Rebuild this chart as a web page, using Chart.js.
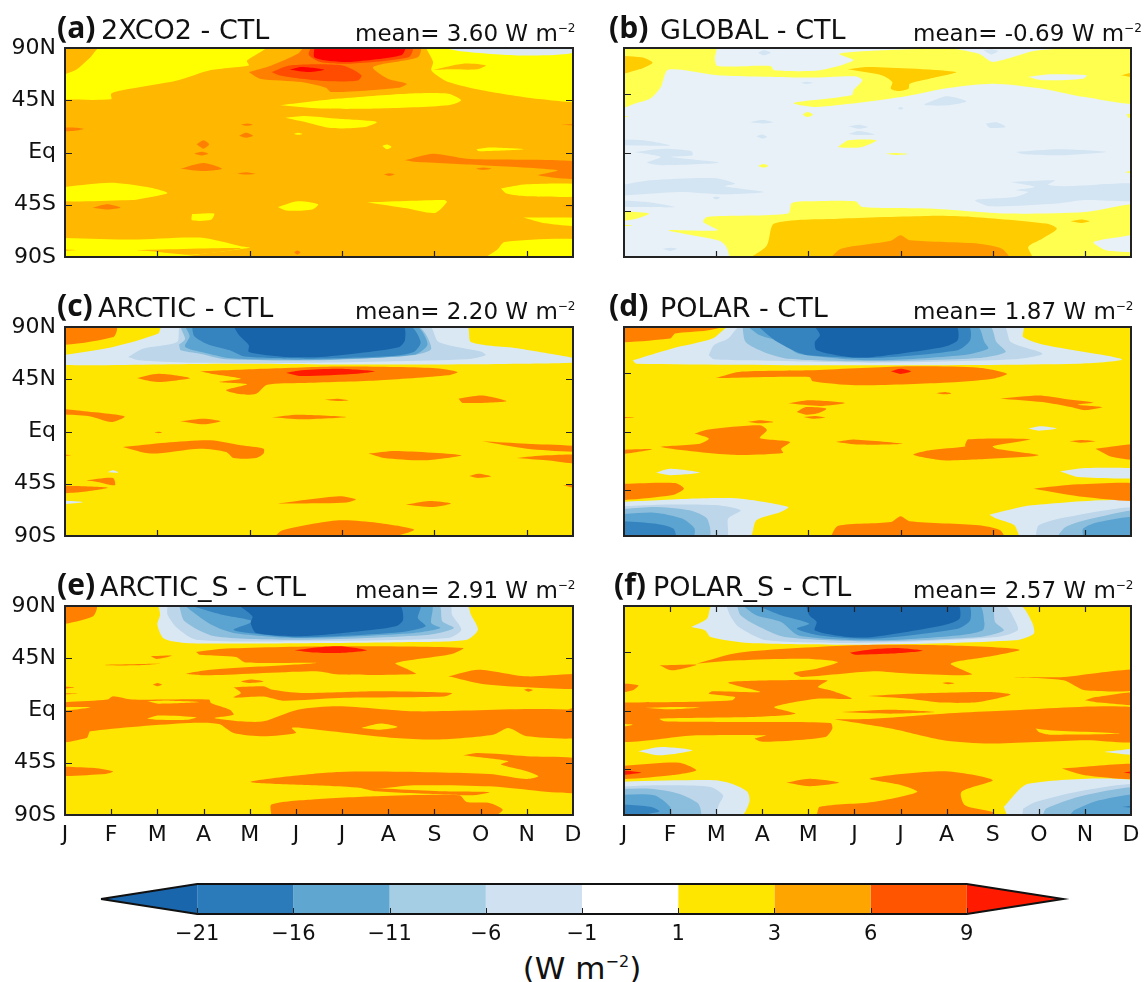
<!DOCTYPE html>
<html>
<head>
<meta charset="utf-8">
<script src="https://cdn.jsdelivr.net/npm/chart.js@4"></script>
<style>
  html, body { margin: 0; background: #fff; }
  #wrap { position: relative; width: 1145px; height: 982px; overflow: hidden; font-family: "DejaVu Sans", sans-serif; color: #111; }
  canvas { position: absolute; }
  .txt { position: absolute; white-space: nowrap; line-height: 1; z-index: 2; }
  .tag { font-family: "Open Sans", sans-serif; font-weight: 700; font-size: 30px; }
  .name { font-size: 27px; }
  .mean { font-size: 23px; }
  .mean sup { font-size: 12px; line-height: 0; vertical-align: 9px; }
</style>
</head>
<body>
<div id="wrap"></div>
<script>
/* Six month/latitude contour panels + shared colourbar.
   Regions are [band, [month, lat, month, lat, ...]]; later ones sit on top. */
const months = ["J", "F", "M", "A", "M", "J", "J", "A", "S", "O", "N", "D"];
const latLabels = { "90": "90N", "45": "45N", "0": "Eq", "-45": "45S", "-90": "90S" };
const xTicksSparse = [2, 4, 6, 8, 10];
const xTicksFull = [1, 2, 3, 4, 5, 6, 7, 8, 9, 10];
const yTicksLeft = [45, 0, -45];
const yTicksRight = [50, 0, -50];
const panelTags = ["(a)", "(b)", "(c)", "(d)", "(e)", "(f)"];
const panelNames = ["2XCO2 - CTL", "GLOBAL - CTL", "ARCTIC - CTL", "POLAR - CTL", "ARCTIC_S - CTL", "POLAR_S - CTL"];
const panelMeans = ["3.60", "-0.69", "2.20", "1.87", "2.91", "2.57"];
const barLevels = ["\u221221", "\u221216", "\u221211", "\u22126", "\u22121", "1", "3", "6", "9"];
const barColors = ["#2b7bba", "#5fa6d1", "#a5cde3", "#d0e1f2", "#ffffff", "#ffe600", "#ffa500", "#ff5500"];
const barLow = "#1966ad", barHigh = "#ff1a00";

const paletteA = { y: "#ffff00", o: "#ff8000", r: "#ff4c00", x: "#ff0000", p: "#dde8f3" };
const baseA = "#ffb700";
const paletteB = { y: "#ffff50", o: "#ffcc00", r: "#ff9900", d: "#d3e4f3", p: "#e8f1f8" };
const baseB = "#e8f1f8";
const paletteC = { o: "#ff8000", x: "#ff1a00", p: "#dae8f4", b1: "#bdd6ea", b2: "#8bbddc", b3: "#5ba3d0", b4: "#3584bf", b5: "#1864aa" };
const baseC = "#ffe600";

const panelA = [
  ["y", [-.3,45.8, 1,45.8, 1,50.7, 1.29,54, 2.43,62, 3.16,71, 3.98,75, 3.94,79, 4.34,90.5, .76,90.5, .55,82, .23,71, -.3,62]],
  ["o", [3.98,69.3, 4.47,75, 5.04,85, 5.2,90.5, 7.69,90.5, 7.64,82, 6.67,73.6, 6.99,63.6, 7.4,59.3, 7.24,55.8, 5.77,52, 5.65,55.8, 5.12,60.7, 4.22,63.6]],
  ["r", [5.32,90.5, 7.52,90.5, 7.44,82, 6.18,76.5, 5.53,78, 5.28,84]],
  ["r", [4.47,69.3, 4.87,75, 6.01,75, 6.42,66.6, 6.34,62, 5.77,61.3, 5.12,63.6, 4.63,66.6]],
  ["x", [5.4,90.5, 7.36,90.5, 7.28,83.7, 6.18,78, 5.69,79, 5.4,82]],
  ["x", [4.87,71.3, 5.12,73.6, 5.61,71.3, 5.28,69.3]],
  ["y", [7.81,90.5, 11.3,90.5, 11.3,45.8, 10.33,45.8, 9.03,53.6, 8.3,60.7, 8.05,66.5, 7.93,71.3, 7.97,78]],
  ["p", [8.13,90.5, 11.2,90.5, 10.9,85, 9.85,83.5, 8.62,87]],
  [null, [7.93,70.8, 8.62,76.5, 9.11,75, 8.91,71.6, 8.3,71.6]],
  ["y", [4.65,40.6, 5.93,46.4, 7.4,50.7, 8.3,50.7, 8.58,45, 8.3,40.6, 6.75,37.8, 5.53,37.8]],
  ["y", [4.77,30, 5.2,31.5, 5.93,29, 6.75,26.3, 6.5,22, 5.77,21, 5.2,26.3]],
  ["y", [4.96,16, 5.04,17, 5.14,16, 5.04,15.2]],
  ["y", [6.87,5.6, 6.97,6.8, 7.07,4.8, 6.97,2.8]],
  ["y", [8.91,2.8, 9.19,4.2, 9.93,2.8, 9.19,1.3, 8.95,1.3]],
  ["o", [7.36,-6.7, 7.97,-1, 8.7,-5.3, 9.52,-6, 10.66,-6.7, 11.3,-9.6, 11.3,-22.5, 10.25,-19.6, 10.66,-15.3, 9.03,-11, 7.56,-8]],
  ["o", [8.9,-14, 9.05,-13, 9.23,-14, 9.05,-15]],
  ["o", [6.9,-19, 7.02,-17.8, 7.14,-19, 7.02,-20.2]],
  ["o", [-.3,21, .15,21.5, .4,20.3, .15,18.5, -.3,18.5]],
  ["o", [10.74,24, 11.3,25, 11.3,23]],
  ["o", [10.7,-46, 11.3,-45, 11.3,-47]],
  ["o", [3.81,24, 3.95,25, 4.06,24, 3.95,23]],
  ["o", [3.77,14.5, 3.92,17, 4.07,14.5, 3.92,12.8]],
  ["o", [2.85,7, 3,10.5, 3.12,7, 3,3.2]],
  ["o", [2.8,-1, 2.96,.6, 3.1,-1, 2.96,-2.5]],
  ["o", [2.5,-14, 3,-9, 3.4,-14, 3,-16]],
  ["o", [3.73,-18, 3.92,-17, 4.12,-18.3, 3.92,-19]],
  ["o", [.6,-47.5, .92,-44.6, 1.2,-47.5, .92,-49]],
  ["o", [4.96,-86, 5.03,-84.5, 5.1,-86, 5.03,-88]],
  ["y", [-.3,-31, .96,-26, 1.78,-29.7, 2.22,-34.8, 1.86,-38.3, 1.45,-41, -.3,-41]],
  ["y", [4.61,-47, 5.04,-42, 5.48,-44.6, 5.36,-49, 4.79,-50]],
  ["y", [6.54,-43, 8.21,-41, 8.27,-42.6, 8.01,-52, 7.4,-48]],
  ["y", [2.75,-53, 3.23,-52.6, 3.16,-58, 2.75,-58.4]],
  ["y", [9.44,-31, 10,-27.4, 11.3,-28, 11.3,-37, 10,-37.7, 9.56,-35.4]],
  ["y", [9.93,-56, 11.3,-57, 11.3,-63.5, 10.4,-61]],
  ["y", [9.07,-91, 9.35,-84, 9.52,-77, 11.3,-75.6, 11.3,-91]],
  ["y", [-.3,-73.3, 1.45,-75, 2.92,-73.3, 3.81,-80.7, 4,-82, 2.67,-89, 2.6,-91, -.3,-91]],
  [null, [1.45,-84.2, 3.81,-82.4, 2.75,-88, 1.85,-85]],
  [null, [-.3,-83, .25,-84, -.3,-85]]
];

const panelB = [
  ["y", [-.3,90.5, 1.99,90.5, 1.97,81, 2.03,74.5, 3.18,74.5, 3.26,70.8, 4.25,70.8, 4.98,79.4, 4.67,85, 5.63,88, 7.09,89.4, 7.7,85, 8,78, 9,88, 11.3,88, 11.3,43.5, 10,47.8, 9.08,55, 8,59.3, 6.93,55, 6.02,47.8, 4.18,39.2, 3.68,42.6, 4.94,49.2, 4.98,53.6, 5.17,62.2, 5.02,65.6, 4.02,64.5, 2.03,66.5, .96,71.3, .8,56.4, .57,46.4, .23,42, -.3,36.3]],
  ["o", [-.3,83.7, .38,82, .62,77.4, .33,71.6, -.3,66.5]],
  ["o", [4.85,71.6, 5.32,73.6, 7.2,69.3, 6.63,63.6, 6.2,59.3, 6.17,55, 5.94,53, 5.79,55, 5.82,60.7, 5.59,66.5]],
  ["o", [10.77,66.5, 11.3,70.8, 11.3,63.6]],
  ["p", [8.77,65, 9.23,67.3, 10.04,66.5, 9.96,63.6, 9.08,62.2]],
  ["d", [2.91,86, 3.03,88, 3.18,86, 3.03,83.7]],
  ["d", [7.8,88, 7.97,89, 8.12,87.4, 7.97,84.5]],
  ["d", [3.83,60, 3.96,61, 4.1,60, 3.96,59]],
  ["d", [6.51,41.5, 7,48.4, 7.43,44, 7,40.6, 6.55,40.6]],
  ["d", [5.94,38, 6,39.2, 6.06,38, 6,37]],
  ["d", [2.72,26, 3,28, 3.24,26, 3,25]],
  ["d", [4.87,22.5, 5.1,24, 5.29,22, 5.1,20.5]],
  ["d", [4.87,16, 5.1,18.5, 5.44,15.5, 5.1,15]],
  ["d", [7.85,25, 8.08,26, 8.28,22, 7.93,21.4]],
  ["d", [2.87,14, 3,15.4, 3.1,13.4, 3,12]],
  ["d", [-.3,11, .42,10.5, 1,6, .42,6, -.3,7]],
  ["d", [.23,.5, .88,3.3, 1.46,1.3, 1.49,-2.4, 1.03,-3.8, 2.07,-8.7, .8,-11, .5,-8.7, .8,-3.8]],
  ["d", [-.3,-30, .57,-24, 1.95,-22, 2.41,-26.8, 2.18,-29, 3.03,-34, 2.18,-36, 1.19,-34, -.3,-37]],
  ["d", [1.92,-39, 2,-38, 2.08,-39, 2,-40.4]],
  ["d", [-.3,-40.6, .5,-42.6, 1.11,-47, .42,-47, -.3,-45.5]],
  ["d", [.84,-83, 1.01,-82, 1.15,-83, 1,-84.8]],
  ["d", [8.5,.5, 9.46,2.8, 10.46,.5, 9.46,-2.4, 8.7,-1.6]],
  ["d", [8.39,-25.4, 9.35,-24, 9.2,-27.7, 9.62,-29, 11.3,-27.4, 11.3,-41, 10,-41, 9.39,-44, 7.93,-46.3, 7.62,-41, 8.47,-38.3, 8.77,-34, 8.5,-32.5, 8.92,-29.7]],
  ["y", [-.3,32, .1,31, -.3,29.5]],
  ["y", [3.87,32.6, 3.98,34.9, 4.1,32.6, 3.98,30.6]],
  ["y", [4.64,4.8, 4.87,10.5, 5.48,10.5, 5.17,4.8, 4.79,4]],
  ["y", [5.67,-1, 5.9,-.4, 6.17,-1.3, 5.9,-2.1]],
  ["y", [2.91,-11.6, 3.03,-10, 3.13,-11.6, 3.03,-13]],
  ["y", [10.84,-16.8, 11.3,-14.8, 11.3,-19.6]],
  ["y", [10.9,33, 11.3,35, 11.3,28, 10.95,30]],
  ["y", [-.3,-50, .54,-52.6, .27,-57, -.3,-59]],
  ["y", [-.3,-61.8, .19,-62.7, -.3,-64]],
  ["y", [2.3,-91, 2.22,-81.3, 2.07,-76, .96,-67, 2.03,-67, 1.72,-59.8, 1.8,-55.5, 3.56,-52.6, 3.64,-43.5, 4.02,-42, 5.02,-42, 5.17,-47, 6.63,-48.3, 8.31,-52.6, 10,-51.2, 11.3,-44.6, 11.3,-67, 10.19,-77, 10.46,-84.2, 11.3,-87, 11.3,-91]],
  ["o", [2.72,-91, 3.1,-80, 3.26,-61.2, 4.64,-57, 6.63,-54.6, 7.55,-55.5, 9.16,-61.2, 9.39,-65.6, 9.08,-74, 8.77,-81.3, 8.85,-91]],
  ["o", [9.69,-59.2, 9.92,-57.8, 10.1,-59.2, 9.92,-60.7]],
  ["r", [4.47,-91, 4.71,-82.8, 5.79,-76, 6,-71.3, 6.2,-75.6, 7.7,-78.5, 8.2,-82.8, 8.35,-91]]
];

const panelC = [
  ["o", [-.3,90.5, 1.11,90.5, 1.05,81.4, -.3,74.8]],
  ["p", [-.3,64.2, 1.04,72.8, 2.02,84.3, 2.1,90.5, 8.7,90.5, 8.79,77, 9.85,71.3, 11.3,60.5, 9.85,58.4, 6.75,57.6, 3.49,58.4, -.3,57.6]],
  ["b1", [1.37,64.2, 1.69,71.3, 2.43,77, 2.51,90.5, 7.89,90.5, 8.09,77, 9.03,68.5, 9.11,65.6, 8.7,62.2, 5.12,59, 2.67,59.3, 1.61,61.3]],
  ["b2", [2.47,74.8, 2.6,79.7, 2.53,90.5, 7.63,90.5, 7.93,71.3, 7.52,65.6, 5.53,61.3, 3.49,62.2, 2.92,67, 2.51,69.9]],
  ["b3", [2.6,90.5, 7.6,90.5, 7.85,75, 7.55,66, 5.4,61.7, 3.6,63, 3,68, 2.6,73, 2.7,82]],
  ["b4", [2.75,90.5, 7.47,90.5, 7.7,77, 7.55,68.5, 7.07,65, 5.28,62.7, 3.9,64.5, 3.57,70, 3.1,75, 2.8,82]],
  ["b5", [3.65,90.5, 7.32,90.5, 7.36,78.5, 7.24,72.8, 6.58,68.5, 5.53,64.2, 4.79,64.2, 3.98,68.5, 3.98,74.2, 3.77,82.8]],
  ["o", [2.92,51.8, 4.3,54, 5.93,56, 7.97,54.7, 8.5,51.3, 8.3,48.4, 6.75,44, 5.12,41.8, 4.38,40.3, 4.14,32.6, 3.81,32, 3.49,35.5, 3.94,40.6, 3.33,42.6, 3.81,45.5, 3.16,49.8]],
  ["x", [4.79,50.4, 5.12,52.7, 5.93,54, 6.71,51.8, 6.34,49.8, 5.12,47.8]],
  ["o", [1.55,46, 2.02,49.8, 2.71,46, 2.1,42.6, 1.86,43.2]],
  ["o", [5.62,27.4, 5.89,28.3, 6.14,27, 5.89,26.3]],
  ["o", [8.52,28.3, 9.03,31, 9.56,26, 8.62,24.6]],
  ["o", [-.3,21, .23,18.2, 1.29,13, 1,8.2, .55,13, -.3,16]],
  ["o", [2.49,8.8, 3,11, 3.37,8.8, 3,6.2]],
  ["o", [4.48,12.2, 5.04,14.5, 6.1,12.5, 5.12,10.5]],
  ["o", [1.94,-.8, 2.02,-.2, 2.1,-.8, 2.02,-1.4]],
  ["o", [1.25,-13.3, 2.18,-9.6, 3.16,-7.6, 3.81,-11.9, 4.3,-14.8, 4.3,-19, 4.14,-22.8, 3.65,-22.8, 3.49,-17.6, 2.92,-14.8, 1.86,-19]],
  ["o", [6.57,-19, 7.16,-16.8, 8.58,-20.5, 7.81,-24.8, 6.91,-22.8]],
  ["o", [9.03,-8.4, 10,-10.5, 11.3,-13.3, 11.3,-17.6, 10,-14.8]],
  ["o", [9.78,-22.8, 10.42,-20.5, 11.3,-20.5, 11.3,-28, 10.42,-24.8]],
  ["o", [8.75,-38.3, 8.95,-36.3, 9.23,-38.6, 8.95,-40]],
  ["o", [10.78,-46.3, 11.3,-44.9, 11.3,-50.6]],
  ["o", [.46,-42, 1.04,-40, 1.08,-46.3, .7,-43.5]],
  ["o", [-.3,-46.3, .92,-48.3, .23,-52.6, -.3,-52.6]],
  ["o", [-.3,-19.6, .13,-20.5, -.3,-21.5]],
  ["o", [4.61,-62, 5.93,-55.8, 6.3,-58.4, 6.1,-61.2, 5.12,-62]],
  ["o", [7.38,-63, 7.89,-59.8, 8.36,-62, 7.97,-65]],
  ["o", [4.53,-91, 4.71,-85, 5.93,-76.5, 6.75,-78.5, 7.56,-84.5, 7,-91]],
  ["p", [.92,-35, 1.04,-33.4, 1.16,-35.4]],
  ["p", [-.3,-59, .39,-60.7, -.3,-63]]
];

const panelD = [
  ["o", [-.3,90.5, 2.15,90.5, 1.8,87, 1.11,84.3, 1,80, -.3,77.7]],
  ["p", [.19,61.3, 1.03,71.3, 1.92,80, 2.3,90.5, 8.66,90.5, 8.66,81.4, 9.16,74.2, 10.8,62.2, 9.85,58.4, 5.4,57, .27,58.4]],
  ["b1", [1.84,65.6, 1.95,74.2, 2.26,80, 2.53,90.5, 8.24,90.5, 8.39,77, 9.08,67, 8.47,62.2, 5.4,59.3, 2.72,61.3, 1.95,62.2]],
  ["b2", [2.57,90.5, 7.93,90.5, 8.08,77, 8.28,68.5, 7.7,63.3, 5.4,60.4, 3.56,62.7, 3.03,68.5, 2.64,77]],
  ["b3", [2.68,90.5, 7.66,90.5, 7.82,77, 7.9,71.3, 7.32,65.6, 5.4,61.3, 3.79,67, 3.41,77, 2.95,82.8]],
  ["b4", [2.91,90.5, 7.47,90.5, 7.51,78.5, 7.24,70, 5.4,63.3, 4.02,65.6, 3.72,69, 3.33,77, 3.1,84]],
  ["b5", [4.14,90.5, 7.2,90.5, 7.24,78.5, 6.93,72.8, 5.4,64.2, 4.87,64.2, 4.18,70, 4.14,77, 4.25,83]],
  ["p", [-.3,-61.2, 1.57,-57.8, 2.49,-57.8, 3.56,-65, 3.4,-69.3, 2.87,-76.5, 2.72,-91, -.3,-91]],
  ["b1", [-.3,-65, .8,-63, 2.03,-63.5, 2.53,-67.9, 2.26,-75, 2.22,-91, -.3,-91]],
  ["b2", [-.3,-67.9, .65,-65, 1.42,-67.9, 1.8,-75, 1.84,-91, -.3,-91]],
  ["b3", [-.3,-72, .65,-69.9, 1.26,-75, 1.53,-83.6, 1.49,-91, -.3,-91]],
  ["b4", [-.3,-76.5, .65,-79.3, 1.07,-83.6, 1.11,-91, -.3,-91]],
  ["p", [7.93,-71.6, 8.85,-63.5, 11.3,-61.2, 11.3,-91, 8.62,-91, 8.47,-80.8, 8.08,-75]],
  ["b1", [8.93,-91, 9,-80.8, 9.62,-73.6, 11.3,-65.8, 11.3,-91]],
  ["b2", [9.39,-91, 9.58,-82.2, 10.15,-75, 11.3,-68, 11.3,-91]],
  ["b3", [9.96,-91, 9.96,-83.6, 10.3,-77.9, 11.3,-73.6, 11.3,-91]],
  ["o", [1.99,46, 2.49,51.3, 4.02,52.7, 6.02,56, 7.7,55, 8.31,49.8, 8,45.5, 6.93,42, 5.02,39.8, 4.1,43.2, 4.02,47]],
  ["x", [5.79,51.8, 6,54, 6.23,51.8, 6,49.5]],
  ["o", [6.78,33, 6.96,34, 7.1,32.8, 6.96,32]],
  ["o", [3.56,24.3, 4.02,26.9, 4.79,24.6, 4.25,22]],
  ["o", [3.75,16.8, 3.95,21, 4.39,19.7, 4.18,15.4, 3.95,14.5]],
  ["o", [3.9,12.5, 4.14,13.4, 4.37,12, 4.1,11]],
  ["o", [-.3,12.5, .23,12.2, -.3,11]],
  ["o", [2.68,8.2, 2.95,9.6, 3.24,8.2, 2.95,7]],
  ["o", [1.53,-1.8, 1.8,1.6, 2.95,5.3, 3.1,1, 2.95,-5.6, 3.6,-9, 3.41,-14.8, 3.45,-18.5, 2.34,-20, .8,-13.3, 1.65,-10.5, 1.84,-6.1]],
  ["o", [4.6,-9, 5.02,-7, 6.05,-10.5, 5.1,-11.3]],
  ["o", [8.16,28.3, 9,31, 9.54,28.3, 10.19,24.9, 9.85,23.1, 10.38,21, 10,18.3, 9.69,21, 9.08,25.4]],
  ["p", [8.77,2.5, 9.04,4.5, 9.39,2.5, 9,.7]],
  ["o", [9.66,-8.4, 9.92,-7.3, 10.23,-8.4, 9.92,-9.6]],
  ["o", [7.4,-11.3, 7.47,-6.7, 8.81,-6.7, 8,-12.7, 8.08,-14.8, 9,-20.5, 7.7,-24, 6.93,-24.8, 6.28,-20, 6.63,-16.2, 7.4,-13]],
  ["o", [10.23,-14.8, 11.3,-11, 11.3,-24, 10.6,-22]],
  ["o", [-.3,-16.2, .61,-15.3, -.3,-20.5]],
  ["o", [-.3,-45.5, 1.11,-44.3, 1.3,-49.2, 1.03,-55, -.3,-58.4]],
  ["o", [8.89,-49.2, 9.85,-45.5, 11.3,-45.5, 11.3,-59.2, 10,-56.4]],
  ["p", [.69,-35.4, 1,-32, 1.65,-35.4, 1,-37.7]],
  ["p", [9.46,-34.3, 10,-31.4, 11.3,-32.5, 11.3,-39.7, 9.85,-39.2]],
  ["o", [4.48,-91, 4.64,-81.3, 5.79,-78, 6,-73, 6.2,-77.3, 7.7,-80.8, 8.16,-85, 8.24,-91]]
];

const panelE = [
  ["o", [-.3,90.5, .68,90.5, .6,81, -.3,74]],
  ["p", [2.02,90.5, 8.7,90.5, 8.79,82.5, 8.94,69.6, 8.7,61, 7.56,59, 5.12,58, 2.67,58, 2.14,62, 2,74, 2.06,82.5]],
  ["b1", [2.22,90.5, 8.34,90.5, 8.38,82.5, 8.58,69.6, 8.3,62.4, 5.12,59.6, 2.84,61, 2.43,71, 2.22,82.5]],
  ["b2", [2.47,90.5, 8.09,90.5, 8.17,76.8, 8.42,71, 7.89,65.3, 5.12,61, 3.24,63.9, 2.59,76.8]],
  ["b3", [2.59,90.5, 7.93,90.5, 7.93,75.4, 8.13,71, 7.56,66.8, 5.12,62.4, 3.65,66.8, 3.16,74, 2.75,85.4]],
  ["b4", [2.71,90.5, 7.69,90.5, 7.64,79.7, 7.81,72.5, 7.24,67.3, 5.12,63, 3.98,66.8, 3.65,69.6, 4.06,76.8, 3.4,82.5, 3,87]],
  ["b5", [3.77,90.5, 7.24,90.5, 7.32,78, 7.16,72.5, 6.34,68, 5.12,64, 4.14,66.8, 4.02,75.4, 4.06,81]],
  ["o", [2.84,50.4, 3.49,53.3, 5.93,55.3, 8.62,53.8, 8.38,48.7, 7.16,40.9, 7.44,35.2, 7.6,31.5, 5.93,30.9, 5.44,33.7, 3.16,30.3, 2.63,31.7, 3.16,35.2, 5.44,40.9, 3.9,41.4, 3.7,46, 2.92,48]],
  ["x", [4.97,51.8, 5.5,54.4, 5.97,55.3, 6.54,51.8, 5.97,49.5, 5.36,50]],
  ["o", [1.86,46.7, 2.31,47.2, 1.98,44.4]],
  ["o", [.88,39.5, 2.06,40.3, 1.53,38.9, .88,38.9]],
  ["o", [1.9,22.3, 2,23.7, 2.1,22.3, 2,20.8]],
  ["o", [-.3,20.8, .21,20, -.3,18]],
  ["o", [-.3,15, .27,14.5, -.3,13.7]],
  ["o", [3.81,25, 4.02,26.6, 4.3,25, 3.98,23.7]],
  ["o", [3.65,20, 4.3,20.8, 4.47,18, 5.12,15, 6.75,16.5, 8.38,15, 8.21,12, 5.93,10.8, 4.71,8.5, 4.3,12, 3.65,11.2, 3.81,15]],
  ["o", [8.3,29.4, 8.95,35.2, 10,29.4, 11.3,30.9, 11.3,19.4, 10,20, 9.03,22.8]],
  ["o", [9.93,18, 10.03,18.8, 10.13,17.7, 10.03,16.2]],
  ["o", [-.3,6.5, .92,9.4, 1.04,12.2, 1.45,9.4, 3.12,9.4, 3.16,6.5, 3.57,.7, 3.65,-3.6, 3.24,-6.4, 3.81,-9.3, 4.3,-9.3, 5.04,.7, 5.93,3.6, 7.56,-.7, 11.3,-.7, 11.3,-22.2, 10,-22.2, 9.6,-15, 9.27,-20.8, 8.05,-25, 7.16,-23.7, 6.1,-19.3, 5.12,-15, 4.91,-15, 5,-19.3, 4.3,-22.2, 3.65,-19.3, 3.33,-11.6, 2.67,-10.7, .55,-17.9, .47,-23.7, -.3,-26.5]],
  [null, [1.78,-7, 2.02,-4.4, 2.84,-5.9, 2.67,-7.9, 2.02,-7.9]],
  [null, [-.3,2.8, .55,2.8, .15,.5, -.3,.5]],
  [null, [1.78,7.9, 2.27,8.5, 2.92,7.3, 2.02,5.9]],
  [null, [6.42,-15, 6.83,-11.3, 7.2,-14.2, 6.83,-16.5]],
  ["o", [10.86,.7, 11.3,5, 11.3,.7]],
  ["o", [8.62,-38.6, 8.95,-36.6, 10,-39.4, 11.3,-43.7, 11.3,-70.1, 9.19,-65.3, 7.56,-64.4, 6.75,-67.3, 5.93,-65.3, 4.02,-61.5, 5.93,-52.9, 9.19,-54.6, 10,-59, 10.25,-56.7, 10,-52.4, 9.44,-46.6, 9.6,-43.7]],
  ["o", [6.34,-66, 8.21,-69.6, 9.19,-70.4, 8.84,-73, 8.21,-72.4, 6.75,-69.6]],
  ["o", [-.3,-48, .64,-49.5, 1.04,-52.4, .88,-54.6, -.3,-55.8]],
  ["o", [4.47,-91, 4.47,-81, 5.36,-76.7, 6.75,-73.9, 8.54,-73, 8.7,-78.8, 9.19,-79.6, 9.48,-85.4, 9.27,-91]]
];

const panelF = [
  ["p", [1.46,71.9, 1.8,79, 1.92,90.5, 8.58,90.5, 8.85,76.2, 8.89,66.2, 8.47,60.4, 5.4,56.7, 2.72,58.1, 1.88,63.3, 1.76,69]],
  ["b1", [2.22,90.5, 8.24,90.5, 8.5,76.2, 8.54,69, 8.08,63.3, 5.4,58.4, 3.1,60.4, 2.49,71.9, 2.3,82]],
  ["b2", [2.45,90.5, 7.97,90.5, 8.05,76.2, 8.24,69, 7.7,63.3, 5.4,59.6, 3.49,63.3, 2.87,73.4, 2.53,82]],
  ["b3", [2.57,90.5, 7.7,90.5, 7.82,75, 7.78,69, 7.24,64.7, 5.4,60.4, 3.79,64.7, 3.41,76.2, 2.87,82]],
  ["b4", [2.87,90.5, 7.47,90.5, 7.51,77.7, 7.24,70.5, 5.4,61.9, 4.25,64.7, 3.75,70.5, 4.02,74.8, 3.41,82]],
  ["b5", [3.95,90.5, 7.24,90.5, 7.28,79, 6.93,73.4, 5.4,63.3, 4.87,63.3, 4.14,69, 4.18,76.2, 4.02,82]],
  ["p", [-.3,-61.5, 1.95,-60, 2.34,-63, 2.68,-70.1, 2.72,-78.8, 2.53,-91, -.3,-91]],
  ["b1", [-.3,-65.8, .8,-64.4, 1.88,-65.8, 2.15,-73, 2.07,-80.2, 1.92,-91, -.3,-91]],
  ["b2", [-.3,-67.9, .57,-67.3, 1.19,-71.6, 1.61,-80.2, 1.65,-91, -.3,-91]],
  ["b3", [-.3,-73, .65,-73, 1,-83, 1,-91, -.3,-91]],
  ["b4", [-.3,-80.2, .57,-83, .77,-86.8, .57,-88.8, .27,-91, -.3,-91]],
  ["p", [8.24,-83, 8.77,-63, 11.3,-61.5, 11.3,-91, 8.35,-91]],
  ["b1", [8.66,-84.5, 8.93,-78.8, 10,-68.7, 11.3,-64.4, 11.3,-91, 8.66,-91]],
  ["b2", [9.08,-91, 9.16,-84.5, 10,-73, 11.3,-66.7, 11.3,-91]],
  ["b3", [9.66,-91, 9.77,-86, 10.31,-77.3, 11.3,-72.4, 11.3,-91]],
  ["b4", [10.8,-83, 11.3,-81, 11.3,-84.5]],
  ["o", [1.57,40.3, 2.49,49.8, 5.02,56.1, 6.93,56.1, 8.58,52.4, 7.85,46, 7.09,40.3, 7.55,30.9, 6.17,31.8, 5.4,33.7, 3.87,28.9, 3.68,32.6, 4.18,36, 4.64,41.8, 3.87,44.6, 2.49,43.2]],
  ["x", [4.9,49.8, 5.4,52.7, 5.94,53.8, 6.48,51.5, 5.79,49, 5.02,48.1]],
  ["o", [.77,38.9, 1.57,39.5, 1.03,34.6]],
  ["o", [-.3,24, .31,21.7, .19,17.4, -.3,14.5]],
  ["o", [-.3,6.8, 1.19,7.3, 2.34,8.8, 2.41,11.6, 1.84,14.5, 1.92,16.5, 2.95,16, 2.26,24, 3.26,26, 4.41,26, 4.21,20.3, 4.48,17.4, 4.94,10.2, 4.18,10.2, 3.26,3, 3.72,-2.7, 2.72,-5.6, .77,-7, .88,-9.3, 2.34,-9.9, 4.48,-10.7, 4.52,-15.6, 4.37,-22.8, 3.03,-27, 2.84,-24.2, 3.07,-21.4, 1.57,-21.4, -.3,-25.7]],
  [null, [.46,2.2, 1.03,3, 1.65,2.5, 1.03,1]],
  [null, [-.3,-11.3, .19,-12.2, -.3,-14.8]],
  ["o", [4.56,-7.6, 5.4,-7, 6.93,-2.7, 8.08,-.4, 11.3,1.6, 11.3,-25.7, 10,-25.7, 7.93,-28.5, 6.93,-25.7, 5.79,-15.6]],
  [null, [8.93,-15.6, 9.23,-17, 10.77,-19.9, 9.23,-20.8, 9,-18.5]],
  ["o", [4.71,-1.3, 5.79,.7, 6.74,-1.3, 5.79,-2.7]],
  ["o", [5.29,12.5, 6.17,14.5, 7.93,16, 8.39,13.7, 7.7,7.3, 6.93,6.8, 6.17,10.2]],
  ["o", [6.9,23.7, 7.03,24.3, 7.17,23.4, 7.03,22.6]],
  ["o", [8.39,28.9, 9.54,28.9, 10.31,32.6, 11.3,34.6, 11.3,18.8, 10,17.4, 9.54,26]],
  ["o", [10,8.8, 10.23,11.6, 11.3,16, 11.3,5, 10.31,6.8]],
  ["p", [.31,-35, .8,-31.4, 1.49,-34.3, .8,-38.6]],
  ["p", [10.42,-35.7, 11.3,-32.8, 11.3,-38.6]],
  ["o", [-.3,-48.6, 1.19,-44.9, 1.57,-51.5, 1.03,-55.8, -.3,-58.7]],
  ["x", [-.3,-50.6, .38,-53.5, -.3,-55.8]],
  ["o", [9.5,-50, 11.3,-46.3, 11.3,-58.7, 10,-55.8]],
  ["x", [10.84,-53.5, 11.3,-51.5, 11.3,-55.2]],
  ["o", [3.52,-62.1, 4.02,-58.7, 4.67,-62.1, 4.02,-65.3]],
  ["o", [4.18,-91, 4.25,-83, 5.4,-78.8, 6.36,-70.1, 6.02,-64.4, 5.33,-58.7, 6.93,-52.4, 8,-60, 7.32,-70.1, 7.4,-81.6, 8,-87.4, 8.04,-91]]
];

const wrap = document.getElementById("wrap");
const xy = (flat) => { const out = []; for (let i = 0; i < flat.length; i += 2) out.push({ x: flat[i], y: flat[i + 1] }); out.push({ ...out[0] }); return out; };

function addCanvas(left, top, w, h) {
  const c = document.createElement("canvas");
  c.width = w; c.height = h; c.style.left = left + "px"; c.style.top = top + "px";
  wrap.appendChild(c);
  return c;
}
function addText(cls, left, top, html) {
  const d = document.createElement("div");
  d.className = "txt " + cls; d.style.top = top + "px"; d.style.left = left + "px"; d.innerHTML = html;
  wrap.appendChild(d);
}

// fills the panel with its base band, then draws the frame + inward ticks on top
const panelPlugin = {
  id: "panel",
  beforeDatasetsDraw(ch, args, o) {
    const { ctx, chartArea: a } = ch;
    ctx.save(); ctx.fillStyle = o.base; ctx.fillRect(a.left, a.top, a.width, a.height); ctx.restore();
  },
  afterDatasetsDraw(ch, args, o) {
    const { ctx, chartArea: a, scales } = ch;
    ctx.save(); ctx.strokeStyle = "#222"; ctx.lineWidth = 1.2; ctx.beginPath();
    o.xTicks.forEach((v) => {
      const x = Math.round(scales.x.getPixelForValue(v)) + 0.5;
      ctx.moveTo(x, a.bottom); ctx.lineTo(x, a.bottom - 6);
      if (o.top) { ctx.moveTo(x, a.top); ctx.lineTo(x, a.top + 6); }
    });
    o.yTicks.forEach((v) => {
      const y = Math.round(scales.y.getPixelForValue(v)) + 0.5;
      ctx.moveTo(a.left, y); ctx.lineTo(a.left + 7, y);
      if (o.right) { ctx.moveTo(a.right, y); ctx.lineTo(a.right - 7, y); }
    });
    ctx.stroke();
    ctx.strokeStyle = "#222"; ctx.lineWidth = 2; ctx.strokeRect(a.left, a.top, a.width, a.height);
    ctx.restore();
  }
};

function drawPanel(i, regions, palette, base, o) {
  const isLeft = i % 2 === 0, left = isLeft ? 0 : 590, top = o.top - 14;
  const h = 14 + 209 + (o.labels ? 34 : 14);
  const canvas = addCanvas(left, top, isLeft ? 590 : 555, h);
  const n = regions.length;
  new Chart(canvas, {
    type: "scatter",
    plugins: [panelPlugin],
    data: { datasets: regions.map(([k, pts], j) => ({
      data: xy(pts), showLine: true, fill: "shape", backgroundColor: k ? palette[k] : base,
      borderWidth: 0, pointRadius: 0, tension: 0.25, order: n - j })) },
    options: {
      responsive: false, animation: false, events: [],
      layout: { padding: { top: 14, left: isLeft ? 0 : 34, right: isLeft ? 17 : 14, bottom: o.labels ? 0 : 14 } },
      plugins: { legend: { display: false }, tooltip: { enabled: false },
        panel: { base, xTicks: o.xTicks, yTicks: isLeft ? yTicksLeft : yTicksRight, top: o.topTicks, right: isLeft } },
      scales: {
        x: { min: 0, max: 11, display: !!o.labels, grid: { display: false, drawTicks: false }, border: { display: false },
          afterFit: (s) => { s.height = o.labels ? 34 : 0; s.paddingLeft = s.paddingRight = 0; },
          ticks: { stepSize: 1, autoSkip: false, maxRotation: 0, padding: 7, color: "#111", font: { family: "DejaVu Sans", size: 22 }, callback: (v) => months[v] } },
        y: { min: -90, max: 90, display: isLeft, grid: { display: false, drawTicks: false }, border: { display: false },
          afterFit: (s) => { s.width = isLeft ? 65 : 0; s.paddingTop = s.paddingBottom = 0; },
          ticks: { stepSize: 45, padding: 9, color: "#111", font: { family: "DejaVu Sans", size: 22 }, callback: (v) => latLabels[v] } }
      }
    }
  });
}

drawPanel(0, panelA, paletteA, baseA, { top: 48, xTicks: xTicksSparse });
drawPanel(1, panelB, paletteB, baseB, { top: 48, xTicks: xTicksSparse });
drawPanel(2, panelC, paletteC, baseC, { top: 327, xTicks: xTicksSparse });
drawPanel(3, panelD, paletteC, baseC, { top: 327, xTicks: xTicksSparse });
drawPanel(4, panelE, paletteC, baseC, { top: 606, xTicks: xTicksFull, labels: true });
drawPanel(5, panelF, paletteC, baseC, { top: 606, xTicks: xTicksFull, labels: true, topTicks: true });

/* ---- titles ---- */
const tagX = [57, 609, 57, 609, 57, 614];
const nameX = [101, 660, 98, 660, 100, 653];
const meanX = [355, 913, 355, 913, 355, 913];
const rowY = [0, 0, 279, 279, 558, 558];
panelNames.forEach((name, i) => {
  addText("tag", tagX[i], 12 + rowY[i] - (i > 1 ? 1 : 0), panelTags[i]);
  addText("name", nameX[i], 16 + rowY[i] - (i > 1 ? 1 : 0), name);
  addText("mean", meanX[i], 22 + rowY[i] - (i > 1 ? 1 : 0), `mean= ${panelMeans[i]} W m<sup>\u22122</sup>`);
});

/* ---- colourbar ---- */
const barSets = barColors.map((c, i) => ({ data: xy([i, 0, i + 1, 0, i + 1, 1, i, 1]), backgroundColor: c }));
barSets.push({ data: xy([0, 0, -1, 0.5, 0, 1]), backgroundColor: barLow }, { data: xy([8, 0, 9, 0.5, 8, 1]), backgroundColor: barHigh });
barSets.forEach((d) => { d.showLine = true; d.fill = "shape"; d.borderWidth = 0; d.pointRadius = 0; });
barSets.unshift({ data: xy([-1, 0.5, 0, 1, 8, 1, 9, 0.5, 8, 0, 0, 0]), showLine: true, fill: false, borderColor: "#111", borderWidth: 2, pointRadius: 0, clip: false });

new Chart(addCanvas(80, 875, 1005, 70), {
  type: "scatter",
  data: { datasets: barSets },
  plugins: [{
    id: "barTicks",
    afterDatasetsDraw(ch) {
      const { ctx, chartArea: a, scales } = ch;
      ctx.save(); ctx.strokeStyle = "#222"; ctx.lineWidth = 1; ctx.beginPath();
      barLevels.forEach((l, i) => { const x = Math.round(scales.x.getPixelForValue(i)) + 0.5; ctx.moveTo(x, a.bottom); ctx.lineTo(x, a.bottom - 6); });
      ctx.stroke(); ctx.restore();
    }
  }],
  options: {
    responsive: false, animation: false, events: [],
    layout: { padding: { left: 21, right: 22, top: 9, bottom: 0 } },
    plugins: { legend: { display: false }, tooltip: { enabled: false } },
    scales: {
      x: { min: -1, max: 9, grid: { display: false, drawTicks: false }, border: { display: false }, afterFit: (s) => { s.height = 31; s.paddingLeft = s.paddingRight = 0; },
        ticks: { stepSize: 1, autoSkip: false, maxRotation: 0, padding: 8, color: "#111", font: { family: "DejaVu Sans", size: 21 }, callback: (v) => barLevels[v] || "" } },
      y: { min: 0, max: 1, display: false }
    }
  }
});

const unit = document.createElement("div");
unit.className = "txt"; unit.style.cssText = "left:0;width:1164px;top:953px;text-align:center;font-size:31px;";
unit.innerHTML = '(W m<sup style="font-size:16px;line-height:0;vertical-align:12px">\u22122</sup>)';
wrap.appendChild(unit);
</script>
</body>
</html>
